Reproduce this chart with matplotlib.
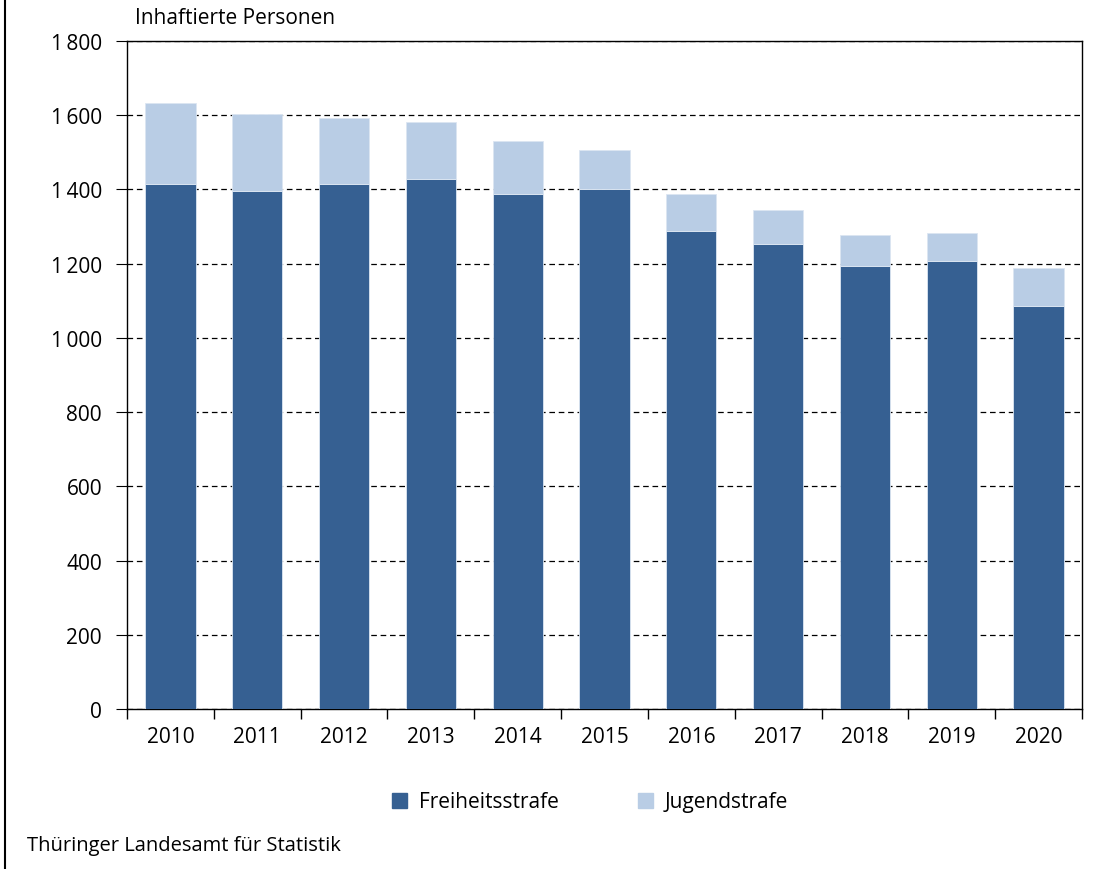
import matplotlib.pyplot as plt
import matplotlib.ticker as mticker
from matplotlib.patches import Rectangle
from matplotlib.lines import Line2D

plt.rcParams['font.family'] = ['Open Sans', 'DejaVu Sans']

# Daten
jahre = ['2010', '2011', '2012', '2013', '2014', '2015', '2016', '2017', '2018', '2019', '2020']
freiheitsstrafe = [1415, 1397, 1416, 1429, 1389, 1401, 1288, 1253, 1194, 1207, 1085]
jugendstrafe = [219, 205, 176, 154, 142, 104, 100, 92, 83, 76, 102]

dunkel = '#366092'
hell = '#b9cde5'
fs = 15

fig = plt.figure(figsize=(11.15, 8.7), dpi=100)
ax = fig.add_axes([127 / 1115, 1 - 710 / 870, 955 / 1115, 668 / 870])

x = list(range(len(jahre)))
ax.bar(x, freiheitsstrafe, width=0.58, color=dunkel, edgecolor='#dce6f2', linewidth=0.6,
       label='Freiheitsstrafe', zorder=3)
ax.bar(x, jugendstrafe, width=0.58, bottom=freiheitsstrafe, color=hell, edgecolor='#dce6f2',
       linewidth=0.6, label='Jugendstrafe', zorder=3)

ax.set_xlim(-0.5, len(jahre) - 0.5)
ax.set_ylim(0, 1800)
ax.yaxis.set_major_locator(mticker.MultipleLocator(200))
ax.yaxis.set_major_formatter(mticker.FuncFormatter(lambda v, p: f'{int(v):,}'.replace(',', '\u2009')))
ax.grid(axis='y', color='black', linestyle=(0, (4.5, 3)), linewidth=0.9, zorder=1)

# x-Achse: Beschriftung mittig, Ticks zwischen den Balken
ax.set_xticks(x)
ax.set_xticklabels(jahre)
ax.tick_params(axis='x', which='major', length=0, pad=12, labelsize=fs)
ax.set_xticks([i - 0.5 for i in range(len(jahre) + 1)], minor=True)
ax.tick_params(axis='x', which='minor', length=7, width=1, direction='out')
ax.tick_params(axis='y', length=8, width=0.8, direction='out', pad=10, labelsize=fs)

for s in ax.spines.values():
    s.set_color('black')
    s.set_linewidth(1)

fig.text(135 / 1115, 1 - 18 / 870, 'Inhaftierte Personen', fontsize=fs, va='center', ha='left')

handles = [Rectangle((0, 0), 1, 1, color=dunkel), Rectangle((0, 0), 1, 1, color=hell)]
fig.legend(handles, ['Freiheitsstrafe', 'Jugendstrafe'], loc='center',
           bbox_to_anchor=(590 / 1115, 1 - 803 / 870), ncol=2, frameon=False, fontsize=fs,
           handlelength=0.75, handleheight=0.75, handletextpad=0.55, columnspacing=3.8)

fig.text(27 / 1115, 1 - 846 / 870, 'Thüringer Landesamt für Statistik', fontsize=fs - 0.5, va='center', ha='left')

# linker Rahmen
fig.add_artist(Line2D([5 / 1115, 5 / 1115], [0, 1], color='black', linewidth=1.5, transform=fig.transFigure))

plt.savefig('out.png', dpi=100)
